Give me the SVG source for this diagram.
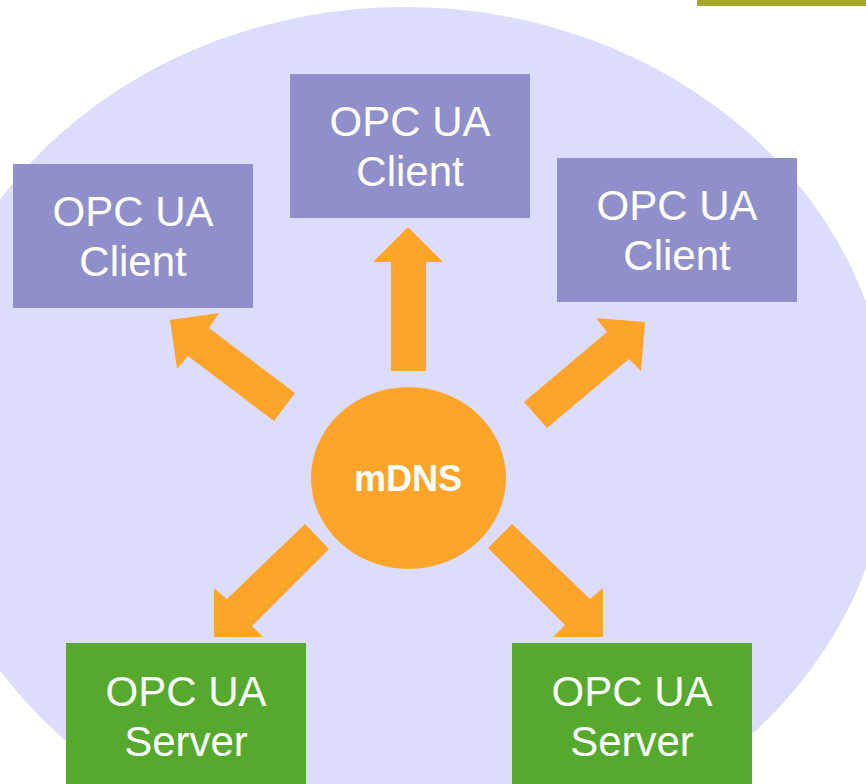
<svg xmlns="http://www.w3.org/2000/svg" width="866" height="784" viewBox="0 0 866 784">
<style>
.client{fill:#8F8FCC}
.server{fill:#55AA2D}
.arrow{fill:#FDA52B}
.lbl{font-family:"Liberation Sans",Arial,sans-serif;font-size:42px;fill:#FFFFFF;text-anchor:middle}
.hub{font-family:"Liberation Sans",Arial,sans-serif;font-size:36px;font-weight:bold;fill:#FFFFFF;text-anchor:middle}
</style>
<rect x="0" y="0" width="866" height="784" fill="#FFFFFF"/>
<rect x="697" y="0" width="169" height="6" fill="#A6A82A"/>
<ellipse cx="405" cy="435" rx="485" ry="428" fill="#DCDCFD"/>
<g id="connectors">
<polygon class="arrow" points="391,371 391,262 373,262 408,227 443,262 426,262 426,371"/>
<polygon class="arrow" points="170,320 219,313 209,328 295,393 274,421 188,356 177,369"/>
<polygon class="arrow" points="645,322 641,371 629,359 547,428 524,402 607,332 596,318"/>
<polygon class="arrow" points="305,524 329,549 252,626 263,637 214,637 214,588 227,599"/>
<polygon class="arrow" points="512,524 590,599 603,588 603,637 553,637 565,625 488,548"/>
</g>
<g id="client-left">
<rect class="client" x="13" y="164" width="240" height="144"/>
<text class="lbl" x="133" y="226">OPC UA</text>
<text class="lbl" x="133" y="276">Client</text>
</g>
<g id="client-top">
<rect class="client" x="290" y="74" width="240" height="144"/>
<text class="lbl" x="410" y="136">OPC UA</text>
<text class="lbl" x="410" y="186">Client</text>
</g>
<g id="client-right">
<rect class="client" x="557" y="158" width="240" height="144"/>
<text class="lbl" x="677" y="220">OPC UA</text>
<text class="lbl" x="677" y="270">Client</text>
</g>
<g id="mdns">
<ellipse class="arrow" cx="408.5" cy="478" rx="97.5" ry="91"/>
<text class="hub" x="408" y="491">mDNS</text>
</g>
<g id="server-left">
<rect class="server" x="66" y="643" width="240" height="144"/>
<text class="lbl" x="186" y="706">OPC UA</text>
<text class="lbl" x="186" y="756">Server</text>
</g>
<g id="server-right">
<rect class="server" x="512" y="643" width="240" height="144"/>
<text class="lbl" x="632" y="706">OPC UA</text>
<text class="lbl" x="632" y="756">Server</text>
</g>
</svg>
